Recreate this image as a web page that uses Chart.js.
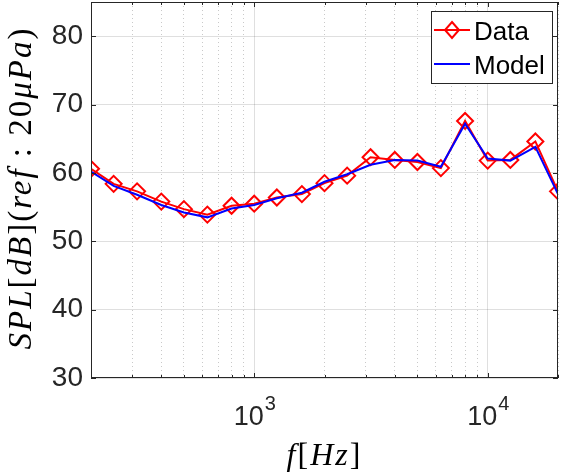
<!DOCTYPE html>
<html>
<head>
<meta charset="utf-8">
<script src="https://cdn.jsdelivr.net/npm/chart.js@4.4.1/dist/chart.umd.min.js"></script>
<style>
  html, body { margin: 0; padding: 0; background: #fff; }
</style>
</head>
<body>
<canvas id="splChart" width="561" height="474"></canvas>
<script>
// third-octave band centres (Hz) and measured / modelled SPL (dB)
var freqs = [200, 250, 315, 400, 500, 630, 800, 1000, 1250, 1600, 2000, 2500, 3150, 4000, 5000, 6300, 8000, 10000, 12500, 16000, 20000];
var dataSpl = [60.6, 58.4, 57.3, 55.8, 54.7, 53.9, 55.2, 55.5, 56.4, 56.9, 58.5, 59.6, 62.3, 61.9, 61.6, 60.7, 67.6, 61.8, 61.9, 64.6, 57.3];
var modelSpl = [60.2, 58.1, 56.8, 55.3, 54.2, 53.5, 54.8, 55.3, 56.3, 57.1, 58.7, 59.8, 61.2, 61.9, 61.8, 60.9, 67.2, 62.1, 61.8, 63.8, 56.9];
var yTicks = [30, 40, 50, 60, 70, 80];
var xLabelValues = [1000, 10000];
var xLabelExps = ['3', '4'];
var seriesNames = ['Data', 'Model'];

var INK = '#262626';
var SANS = '"Liberation Sans", Arial, Helvetica, sans-serif';
var SERIF = '"Liberation Serif", "Times New Roman", serif';

function isMajor(v) {
  var l = Math.log10(v);
  return Math.abs(l - Math.round(l)) < 1e-9;
}

// draw text made of italic (math) and upright pieces, centred on x
function drawMath(ctx, segs, x, y, size, gap) {
  var total = 0, i;
  ctx.letterSpacing = gap + 'px';
  for (i = 0; i < segs.length; i++) {
    ctx.font = (segs[i][1] ? 'italic ' : '') + size + 'px ' + SERIF;
    total += ctx.measureText(segs[i][0]).width;
  }
  var cx = x - total / 2;
  ctx.textAlign = 'left';
  ctx.textBaseline = 'middle';
  for (i = 0; i < segs.length; i++) {
    ctx.font = (segs[i][1] ? 'italic ' : '') + size + 'px ' + SERIF;
    ctx.fillText(segs[i][0], cx, y);
    cx += ctx.measureText(segs[i][0]).width;
  }
  ctx.letterSpacing = '0px';
}

function noPadding(scale) {
  scale.paddingTop = 0;
  scale.paddingBottom = 0;
  scale.paddingLeft = 0;
  scale.paddingRight = 0;
}

var decorations = {
  id: 'decorations',
  afterDraw: function(chart) {
    var ctx = chart.ctx;
    var a = chart.chartArea;
    var xs = chart.scales.x, ys = chart.scales.y;
    ctx.save();

    // axes box
    ctx.strokeStyle = INK;
    ctx.lineWidth = 1;
    ctx.strokeRect(Math.round(a.left) + 0.5, Math.round(a.top) + 0.5,
                   Math.round(a.right - a.left) - 1, Math.round(a.bottom - a.top) - 1);

    // inward tick marks
    ctx.beginPath();
    yTicks.forEach(function(v) {
      var py = Math.round(ys.getPixelForValue(v)) + 0.5;
      ctx.moveTo(a.left, py); ctx.lineTo(a.left + 5, py);
      ctx.moveTo(a.right, py); ctx.lineTo(a.right - 5, py);
    });
    xs.ticks.forEach(function(t) {
      var px = Math.round(xs.getPixelForValue(t.value)) + 0.5;
      var len = isMajor(t.value) ? 5 : 3;
      ctx.moveTo(px, a.bottom); ctx.lineTo(px, a.bottom - len);
      ctx.moveTo(px, a.top); ctx.lineTo(px, a.top + len);
    });
    ctx.stroke();

    // x tick labels 10^n
    ctx.fillStyle = INK;
    ctx.textBaseline = 'alphabetic';
    ctx.textAlign = 'left';
    xLabelValues.forEach(function(v, i) {
      var px = xs.getPixelForValue(v);
      ctx.font = '27px ' + SANS;
      var wb = ctx.measureText('10').width;
      ctx.font = '20px ' + SANS;
      var we = ctx.measureText(xLabelExps[i]).width;
      var x0 = px - (wb + we) / 2;
      ctx.font = '27px ' + SANS;
      ctx.fillText('10', x0, 425);
      ctx.font = '20px ' + SANS;
      ctx.fillText(xLabelExps[i], x0 + wb + 1, 410);
    });

    // axis titles
    ctx.fillStyle = '#000';
    drawMath(ctx, [['f', 1], ['[', 0], ['H', 1], ['z', 1], [']', 0]], (a.left + a.right) / 2, 457, 32, 2);
    ctx.save();
    ctx.translate(22, 188);
    ctx.rotate(-Math.PI / 2);
    drawMath(ctx, [['SPL', 1], ['[', 0], ['dB', 1], [']', 0], ['(', 0], ['ref', 1], [' : ', 0],
                   ['20', 0], ['\u03bcPa', 1], [')', 0]], 0, 0, 33, 2);
    ctx.restore();

    // legend box
    var lx = 431, ly = 11, lw = 121, lh = 72;
    ctx.fillStyle = '#fff';
    ctx.fillRect(lx, ly, lw, lh);
    ctx.strokeStyle = INK;
    ctx.lineWidth = 1;
    ctx.strokeRect(lx + 0.5, ly + 0.5, lw, lh);
    var rows = [{ y: 30, color: '#ff0000', marker: true }, { y: 64, color: '#0000ff', marker: false }];
    rows.forEach(function(r, i) {
      ctx.strokeStyle = r.color;
      ctx.lineWidth = 2;
      ctx.beginPath();
      ctx.moveTo(434, r.y); ctx.lineTo(470, r.y);
      ctx.stroke();
      if (r.marker) {
        ctx.beginPath();
        ctx.moveTo(452, r.y - 8); ctx.lineTo(459, r.y); ctx.lineTo(452, r.y + 8); ctx.lineTo(445, r.y);
        ctx.closePath();
        ctx.stroke();
      }
      ctx.fillStyle = '#000';
      ctx.font = '26px ' + SANS;
      ctx.textAlign = 'left';
      ctx.textBaseline = 'alphabetic';
      ctx.fillText(seriesNames[i], 474, r.y + 10);
    });
    ctx.restore();
  }
};

var ctx = document.getElementById('splChart').getContext('2d');
var splChart = new Chart(ctx, {
  type: 'line',
  data: {
    datasets: [{
      label: seriesNames[0],
      data: freqs.map(function(f, i) { return { x: f, y: dataSpl[i] }; }),
      borderColor: '#ff0000',
      borderWidth: 2,
      pointStyle: 'rectRot',
      pointRadius: 8,
      pointBorderWidth: 2,
      pointBorderColor: '#ff0000',
      pointBackgroundColor: 'rgba(0,0,0,0)',
      fill: false,
      tension: 0,
      clip: 0,
      order: 2
    }, {
      label: seriesNames[1],
      data: freqs.map(function(f, i) { return { x: f, y: modelSpl[i] }; }),
      borderColor: '#0000ff',
      borderWidth: 2,
      pointRadius: 0,
      fill: false,
      tension: 0,
      clip: 0,
      order: 1
    }]
  },
  options: {
    responsive: false,
    animation: false,
    layout: { autoPadding: false, padding: { top: 2, right: 3, left: 0, bottom: 0 } },
    plugins: {
      legend: { display: false },
      tooltip: { enabled: false }
    },
    scales: {
      x: {
        type: 'logarithmic',
        min: 200,
        max: 20000,
        afterBuildTicks: function(scale) {
          var t = [];
          for (var e = 2; e <= 4; e++) {
            for (var m = 1; m < 10; m++) {
              var v = m * Math.pow(10, e);
              if (v >= 200 && v <= 20000) t.push({ value: v });
            }
          }
          scale.ticks = t;
        },
        afterFit: function(scale) { scale.height = 96; noPadding(scale); },
        ticks: { display: false },
        border: {
          display: false,
          dash: function(c) { return (c.tick && !isMajor(c.tick.value)) ? [1, 3] : []; }
        },
        grid: {
          drawTicks: false,
          color: function(c) { return (c.tick && isMajor(c.tick.value)) ? 'rgba(38,38,38,0.15)' : 'rgba(38,38,38,0.25)'; },
          lineWidth: 1
        }
      },
      y: {
        min: 30,
        max: 85,
        afterBuildTicks: function(scale) {
          scale.ticks = yTicks.map(function(v) { return { value: v }; });
        },
        afterFit: function(scale) { scale.width = 91; noPadding(scale); },
        ticks: {
          color: INK,
          padding: 8,
          font: { family: SANS, size: 28 }
        },
        border: { display: false },
        grid: {
          drawTicks: false,
          color: 'rgba(38,38,38,0.15)',
          lineWidth: 1
        }
      }
    }
  },
  plugins: [decorations]
});
</script>
</body>
</html>
